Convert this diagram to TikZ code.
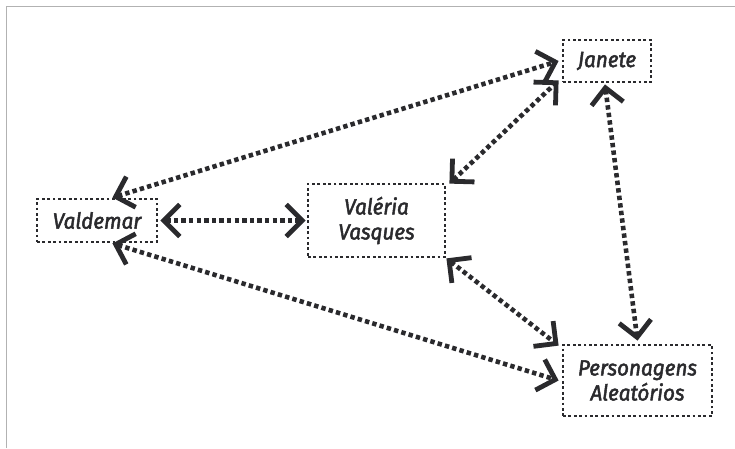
\documentclass[tikz,border=0pt]{standalone}
\usepackage{fontspec}
\setmainfont{Fira Sans}
\newfontfamily\lblfont[FakeStretch=0.94,FakeBold=2.2]{Fira Sans Italic}
\usetikzlibrary{arrows.meta}
\definecolor{ink}{RGB}{42,42,45}
\definecolor{framegray}{RGB}{178,178,178}
\begin{document}
\begin{tikzpicture}[x=1pt,y=-1pt,
  box/.style={draw=ink, line width=2.8pt, dash pattern=on 2.8pt off 2.6pt, text=ink,
    font=\lblfont\fontsize{22}{25}\selectfont, align=center, inner sep=0pt},
  barb/.tip={Straight Barb[length=16pt,width=32pt,line width=4.8pt]},
  link/.style={draw=ink, line width=4.6pt, dash pattern=on 4.4pt off 3.2pt, barb-barb}
]
\useasboundingbox (0,0) rectangle (735,448);
\draw[framegray, line width=1.6pt] (6.5,448) -- (6.5,6.5) -- (735,6.5);

\node[box, minimum width=88pt, minimum height=42pt] (jan) at (607,61) {Janete};
\node[box, minimum width=120pt, minimum height=43pt] (val) at (97,220.5) {Valdemar};
\node[box, minimum width=137pt, minimum height=73pt] (vv) at (376.5,220.5) {Valéria\\Vasques};
\node[box, minimum width=149pt, minimum height=71pt] (pa) at (637.5,380.5) {Personagens\\Aleatórios};

\draw[link] (val.56) -- ([xshift=-3pt]jan.west);
\draw[link] ([xshift=2pt]val.east) -- ([xshift=-1pt]vv.west);
\draw[link] (val.-56) -- ([xshift=-3pt]pa.west);
\draw[link] ([shift={(3pt,-1pt)}]vv.north east) -- ([shift={(-3pt,3pt)}]jan.south west);
\draw[link] (vv.south east) -- ([shift={(-3pt,-2pt)}]pa.north west);
\draw[link] ([xshift=-2pt,yshift=-1pt]jan.south) -- ([yshift=3pt]pa.north);
\end{tikzpicture}
\end{document}
